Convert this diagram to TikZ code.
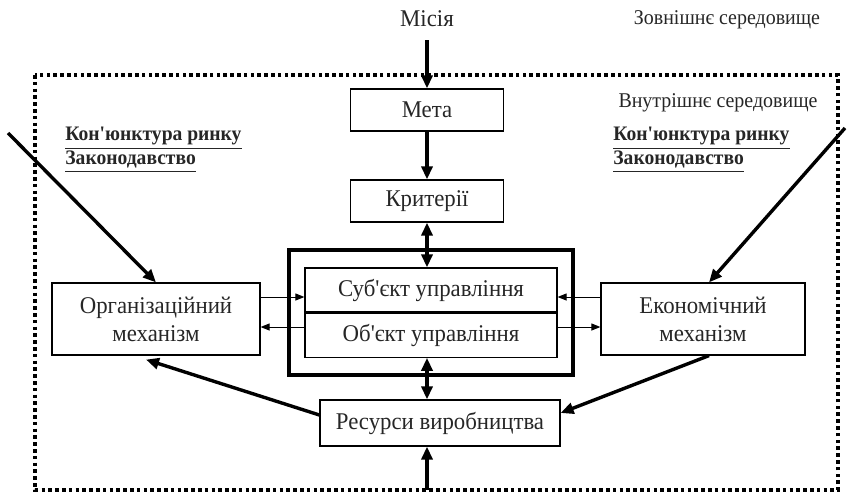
\documentclass[tikz,border=0pt]{standalone}
\usepackage{fontspec}
\setmainfont{Liberation Serif}[Ligatures=TeXOff, FakeStretch=0.95]
\usetikzlibrary{arrows.meta, calc, fit}

\tikzset{
  blk/.style={draw, line width=0.6pt, inner sep=0pt, align=center, minimum width=#1, minimum height=21pt},
  bigarr/.style={line width=1.7pt, -{Triangle[length=6.5pt,width=5.5pt]}},
  bigdbl/.style={line width=1.7pt, {Triangle[length=6.5pt,width=5.5pt]}-{Triangle[length=6.5pt,width=5.5pt]}},
  thinarr/.style={line width=0.5pt, -{Triangle[length=4.5pt,width=3.5pt]}},
  envtxt/.style={font=\fontsize{10.5}{12}\selectfont},
  factors/.style={font=\fontsize{10.3}{10.5}\selectfont\bfseries, align=left, anchor=north west, inner sep=0pt},
}

\begin{document}
\begin{tikzpicture}[x=0.5pt, y=-0.5pt, font=\fontsize{12}{14}\selectfont, text=black!85]
\useasboundingbox (0,0) rectangle (847,493);
% environment border
\draw[line width=1.8pt, dash pattern=on 1.8pt off 1.6pt] (35,75) rectangle (838,490);
\node (misia) at (427,19) {Місія};
\node[envtxt] (outer) at (727,20) {Зовнішнє середовище};
\node[envtxt] (inner) at (718,103) {Внутрішнє середовище};
% blocks
\node[blk=76.5pt] (meta) at (427,110) {Мета};
\node[blk=76.5pt] (kryt) at (427,201) {Критерії};
\node[blk=126pt, minimum height=22pt] (subj) at (431,290) {Суб'єкт управління};
\node[blk=126pt, minimum height=22pt, anchor=north] (obj) at (subj.south) {Об'єкт управління};
\node[fit=(subj)(obj), draw, line width=2pt, inner xsep=7.5pt, inner ysep=8.5pt] (core) {};
\node[blk=104pt, minimum height=36pt] (org) at (156,319) {Організаційний\\механізм};
\node[blk=102pt, minimum height=36pt] (econ) at (703,319) {Економічний\\механізм};
\node[blk=120pt, minimum height=23pt] (res) at (440,423) {Ресурси виробництва};
\node[factors] (factl) at (65,127) {\underline{Кон'юнктура ринку}\\\underline{Законодавство}};
\node[factors] (factr) at (613,127) {\underline{Кон'юнктура ринку}\\\underline{Законодавство}};
% free ends
\coordinate (extl) at (8,133);
\coordinate (extr) at (845,128);
\coordinate (bottom) at (427,490);
% connectors
\draw[bigarr, shorten <=3pt] (misia) -- (meta);
\draw[bigarr] (meta) -- (kryt);
\draw[bigdbl] (kryt) -- (kryt |- subj.north);
\draw[bigdbl] (kryt |- obj.south) -- (kryt |- res.north);
\draw[bigarr] (bottom) -- (bottom |- res.south);
\draw[thinarr] ([yshift=11pt]org.east) -- ([yshift=11pt]org.east -| subj.west);
\draw[thinarr] ([yshift=-4pt]org.east -| obj.west) -- ([yshift=-4pt]org.east);
\draw[thinarr] ([yshift=11pt]econ.west) -- ([yshift=11pt]econ.west -| subj.east);
\draw[thinarr] ([yshift=-4pt]econ.west -| obj.east) -- ([yshift=-4pt]econ.west);
\draw[bigarr] (extl) -- (org.north);
\draw[bigarr] (extr) -- ([xshift=3pt]econ.north);
\draw[bigarr] ([yshift=4pt]res.west) -- ([xshift=-5pt,yshift=-2pt]org.south);
\draw[bigarr] ([xshift=3pt]econ.south) -- ([yshift=5pt]res.east);
\end{tikzpicture}
\end{document}
